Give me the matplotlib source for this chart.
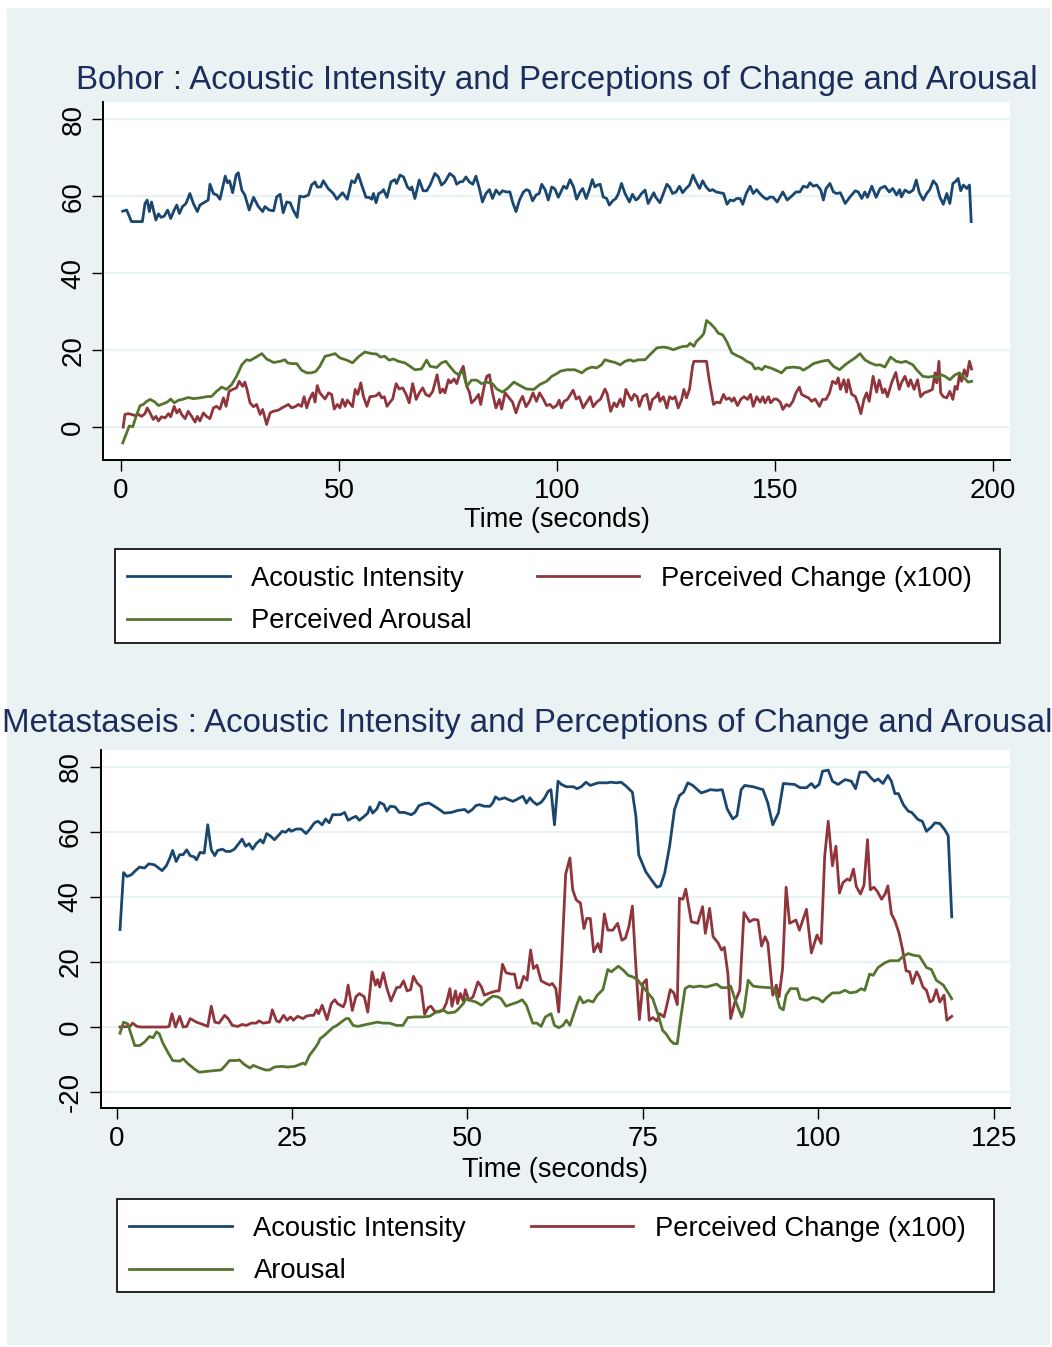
import matplotlib
matplotlib.use("Agg")
import matplotlib.pyplot as plt
from matplotlib.patches import Rectangle

plt.rcParams['font.family'] = ['Liberation Sans', 'DejaVu Sans']
plt.rcParams['axes.unicode_minus'] = False

# ---------------- data (time in seconds, value) ----------------
bohor_intensity = [
    (0.4, 56.1), (1.3, 56.4), (2.4, 53.4), (4.9, 53.4), (5.5, 58.1), (6.0, 59.0), (6.5, 56.0), (7.0, 58.5),
    (8.0, 53.8), (8.6, 55.4), (9.2, 54.5), (9.9, 54.8), (10.7, 56.4), (11.4, 54.2), (12.2, 56.4), (12.8, 57.7),
    (13.4, 55.5), (14.1, 57.3), (14.9, 58.1), (15.8, 60.7), (16.6, 58.1), (17.5, 56.0), (18.1, 57.7), (19.3, 58.5),
    (20.0, 59.0), (20.4, 63.1), (21.2, 60.7), (22.0, 60.3), (22.7, 59.2), (23.9, 65.2), (24.4, 63.5), (24.9, 64.0),
    (25.6, 60.9), (26.4, 65.5), (26.9, 66.1), (27.7, 61.6), (28.4, 60.3), (29.4, 56.4), (30.4, 59.7), (31.5, 57.3),
    (32.5, 56.0), (33.0, 57.3), (34.0, 56.4), (35.0, 56.2), (35.7, 59.8), (36.5, 60.5), (37.2, 55.7), (38.0, 58.5),
    (38.8, 58.3), (39.5, 56.4), (40.4, 54.5), (41.0, 60.0), (41.9, 59.8), (43.0, 60.3), (43.7, 62.9), (44.5, 63.7),
    (45.0, 62.4), (45.8, 62.4), (46.4, 64.0), (47.5, 62.0), (48.7, 60.7), (49.5, 59.2), (50.8, 60.9), (51.9, 59.2),
    (52.9, 64.0), (53.6, 63.5), (54.4, 65.7), (55.2, 62.9), (56.2, 59.7), (56.9, 59.7), (57.5, 59.2), (57.9, 60.7),
    (58.5, 58.3), (59.1, 60.7), (59.8, 61.1), (60.2, 61.7), (61.0, 59.7), (61.9, 63.7), (62.8, 64.3), (63.2, 63.3),
    (64.0, 65.5), (64.8, 65.0), (65.7, 62.4), (66.3, 61.7), (66.7, 62.4), (67.4, 59.4), (68.4, 64.2), (69.3, 61.4),
    (70.1, 61.4), (70.9, 62.9), (72.0, 65.9), (72.8, 65.0), (73.5, 62.9), (74.3, 63.7), (75.4, 65.9), (76.4, 65.0),
    (77.0, 63.1), (77.7, 63.7), (78.4, 63.8), (79.1, 65.0), (79.9, 63.7), (80.7, 63.1), (81.4, 65.2), (82.2, 62.0),
    (82.9, 58.5), (83.7, 60.7), (84.5, 61.7), (85.2, 59.4), (86.0, 61.6), (86.8, 60.5), (87.5, 61.4), (88.4, 61.1),
    (89.2, 61.1), (89.8, 58.5), (90.6, 56.0), (91.4, 59.0), (92.3, 61.1), (93.0, 61.7), (93.6, 61.4), (94.4, 58.8),
    (95.2, 60.3), (95.9, 60.7), (96.5, 63.1), (97.3, 61.6), (98.0, 59.0), (98.8, 62.4), (99.5, 61.9), (100.3, 59.7),
    (101.5, 62.6), (102.2, 62.0), (103.0, 64.3), (103.8, 62.4), (104.5, 59.2), (105.3, 61.1), (105.9, 62.0),
    (106.7, 59.4), (107.4, 61.6), (108.1, 64.3), (108.7, 62.4), (109.3, 62.9), (109.9, 63.1), (110.6, 59.8),
    (111.4, 59.4), (112.0, 57.7), (112.8, 58.8), (113.5, 59.4), (114.1, 60.7), (114.8, 63.3), (115.6, 60.7),
    (116.6, 58.5), (117.3, 60.5), (118.1, 59.0), (118.6, 59.4), (119.4, 60.7), (120.2, 61.6), (120.9, 58.1),
    (121.7, 59.8), (122.2, 60.9), (122.6, 59.8), (123.6, 58.3), (124.4, 60.7), (125.2, 63.1), (125.8, 62.4),
    (126.5, 60.7), (127.3, 61.1), (128.1, 62.6), (128.8, 60.9), (129.6, 62.0), (130.4, 62.9), (131.2, 65.5),
    (131.9, 63.7), (132.7, 62.0), (133.4, 64.0), (134.2, 62.4), (135.0, 61.4), (135.7, 61.7), (136.5, 61.1),
    (137.4, 60.9), (138.2, 60.7), (139.0, 57.9), (139.7, 59.0), (140.5, 58.8), (141.2, 59.4), (142.0, 59.4),
    (142.6, 57.9), (143.4, 60.7), (144.3, 62.6), (145.0, 60.7), (145.8, 61.7), (146.5, 60.7), (147.3, 59.8),
    (148.1, 59.2), (148.9, 59.8), (149.6, 59.7), (150.5, 58.5), (151.8, 61.1), (152.8, 59.0), (153.8, 60.0),
    (154.8, 61.1), (155.7, 61.1), (156.5, 62.6), (157.4, 62.3), (158.0, 63.5), (158.8, 62.6), (159.6, 62.9),
    (160.5, 61.6), (161.1, 59.0), (161.7, 62.0), (162.6, 63.3), (163.4, 61.1), (164.1, 60.7), (165.0, 60.9),
    (166.1, 58.1), (167.2, 59.8), (168.4, 61.4), (169.1, 61.1), (169.9, 59.4), (170.6, 61.1), (171.2, 59.7),
    (172.2, 62.6), (173.2, 59.7), (174.1, 62.0), (175.2, 62.6), (176.2, 61.1), (177.0, 62.0), (177.9, 60.3),
    (178.6, 61.7), (179.0, 59.8), (179.8, 61.6), (180.8, 60.9), (181.7, 61.6), (182.4, 64.2), (183.1, 60.9),
    (184.0, 59.0), (184.8, 60.7), (185.5, 61.7), (186.3, 64.0), (187.1, 62.9), (187.8, 59.8), (188.6, 57.9),
    (189.4, 60.7), (190.1, 58.1), (190.8, 63.3), (191.3, 63.7), (192.0, 64.6), (192.6, 61.4), (193.2, 62.9),
    (194.0, 62.0), (194.6, 62.9), (195.0, 53.4),
]

bohor_change = [
    (0.5, 0.0), (0.9, 3.3), (1.7, 3.5), (2.4, 3.3), (3.2, 3.0), (4.0, 3.3), (4.7, 2.8), (5.5, 3.5), (6.0, 5.0),
    (6.7, 3.6), (7.4, 2.0), (8.0, 2.8), (8.6, 1.6), (9.3, 2.7), (10.1, 2.4), (10.9, 3.5), (11.4, 2.7), (12.2, 5.4),
    (12.8, 3.7), (13.4, 4.6), (13.9, 3.3), (14.7, 2.2), (15.4, 4.1), (16.2, 2.8), (17.0, 1.3), (17.5, 2.8),
    (18.1, 1.6), (18.9, 3.7), (19.6, 2.8), (20.4, 2.2), (21.2, 5.0), (21.9, 5.4), (22.7, 4.7), (23.5, 7.6),
    (24.1, 5.4), (24.8, 9.3), (25.6, 9.8), (26.5, 10.2), (27.1, 11.9), (27.9, 10.6), (28.4, 11.7), (28.9, 9.8),
    (29.6, 6.3), (30.4, 5.3), (31.1, 5.9), (31.9, 3.3), (32.5, 4.6), (33.4, 0.7), (34.2, 3.7), (34.9, 4.1),
    (36.1, 4.4), (36.9, 5.0), (37.6, 5.4), (38.4, 5.9), (39.1, 5.0), (39.9, 5.3), (40.7, 5.9), (41.4, 5.4),
    (42.0, 7.9), (42.6, 5.0), (43.2, 7.2), (44.0, 8.9), (44.5, 6.5), (45.0, 10.8), (45.6, 8.9), (46.8, 7.3),
    (47.6, 8.9), (48.3, 8.5), (48.9, 4.7), (49.6, 5.9), (50.2, 5.0), (50.8, 7.2), (51.4, 5.4), (51.9, 7.0),
    (52.7, 5.9), (53.1, 5.3), (53.7, 9.8), (54.3, 8.5), (55.0, 11.5), (55.6, 8.0), (56.4, 5.4), (57.1, 7.9),
    (57.9, 8.0), (58.6, 8.2), (59.2, 8.9), (59.8, 7.6), (60.4, 7.9), (61.0, 5.4), (61.7, 6.5), (62.3, 7.3),
    (63.1, 11.3), (63.8, 9.9), (64.6, 10.2), (65.4, 8.5), (66.1, 6.3), (66.9, 11.3), (67.7, 7.2), (68.4, 8.9),
    (69.2, 10.2), (69.9, 8.5), (70.7, 8.0), (71.5, 9.3), (72.5, 13.6), (73.2, 8.9), (73.8, 9.9), (74.3, 8.9),
    (75.1, 12.3), (75.6, 11.5), (76.4, 12.5), (77.0, 11.3), (77.8, 14.2), (78.5, 15.8), (79.3, 10.6), (79.9, 9.1),
    (80.4, 6.3), (81.2, 7.2), (82.0, 8.5), (82.5, 5.9), (83.3, 10.6), (83.9, 13.2), (84.5, 13.6), (85.2, 8.9),
    (86.0, 5.0), (86.8, 7.2), (87.3, 4.7), (88.1, 8.9), (88.8, 7.9), (89.8, 6.5), (90.6, 3.7), (91.4, 6.5),
    (92.1, 8.0), (92.9, 5.3), (93.7, 6.7), (94.5, 8.9), (95.3, 6.7), (96.0, 8.9), (96.9, 7.2), (97.6, 5.6),
    (98.4, 5.9), (99.1, 5.0), (99.9, 5.6), (100.5, 7.0), (101.0, 5.0), (101.6, 6.7), (102.4, 7.2), (103.1, 8.5),
    (103.7, 9.6), (104.4, 7.3), (105.1, 7.9), (106.0, 5.0), (106.8, 6.5), (107.6, 7.9), (108.3, 5.3), (109.1, 6.5),
    (110.0, 7.3), (111.0, 9.9), (111.5, 8.7), (112.3, 4.1), (113.1, 6.3), (113.7, 5.3), (114.5, 7.3), (115.2, 5.4),
    (115.8, 9.8), (116.6, 8.0), (117.1, 7.0), (117.7, 8.5), (118.4, 7.9), (118.9, 5.4), (119.7, 8.0), (120.6, 8.5),
    (121.3, 4.6), (121.9, 7.2), (122.7, 7.9), (123.2, 8.9), (123.6, 6.7), (124.4, 7.9), (125.2, 5.0), (125.8, 7.9),
    (126.5, 7.3), (127.1, 7.9), (127.8, 5.0), (128.6, 7.2), (129.1, 9.8), (129.7, 7.6), (130.4, 9.9), (131.1, 15.8),
    (131.4, 17.1), (134.3, 17.1), (134.9, 12.3), (135.9, 5.9), (136.6, 6.5), (137.4, 6.3), (138.2, 8.5), (138.8, 7.2),
    (139.5, 7.6), (140.1, 6.7), (140.6, 7.6), (141.4, 5.6), (142.2, 7.3), (142.9, 7.9), (143.7, 7.2), (144.4, 8.5),
    (145.0, 5.4), (145.8, 7.9), (146.6, 6.5), (147.2, 7.9), (147.7, 6.3), (148.5, 7.9), (149.0, 6.3), (149.8, 7.3),
    (150.4, 7.3), (151.2, 6.5), (151.8, 4.6), (152.6, 5.9), (153.3, 5.4), (154.1, 6.7), (154.8, 8.9), (155.6, 10.4),
    (156.1, 8.5), (156.9, 8.0), (157.7, 7.6), (158.4, 6.7), (159.2, 7.3), (160.2, 5.4), (160.9, 7.2), (161.7, 7.2),
    (162.5, 8.9), (163.2, 11.9), (164.0, 11.3), (164.5, 12.8), (165.0, 9.8), (165.8, 12.3), (166.4, 9.1),
    (166.8, 12.3), (167.6, 8.5), (168.4, 8.0), (169.1, 5.9), (169.7, 3.5), (170.4, 7.2), (171.0, 8.9), (171.6, 6.7),
    (172.5, 13.2), (173.3, 9.1), (173.9, 12.2), (174.7, 8.9), (175.2, 9.9), (175.8, 7.9), (176.8, 11.7),
    (177.7, 14.2), (178.5, 9.8), (179.0, 11.5), (179.8, 13.2), (180.6, 10.6), (181.1, 12.3), (181.9, 9.8),
    (182.7, 12.3), (183.4, 7.9), (184.2, 8.9), (185.2, 9.3), (186.1, 9.8), (186.7, 14.1), (187.1, 11.5),
    (187.6, 17.1), (188.0, 8.9), (188.6, 7.9), (189.4, 7.6), (190.1, 9.3), (190.8, 7.2), (191.3, 10.6), (191.8, 9.8),
    (192.3, 13.6), (192.8, 11.9), (193.4, 14.9), (194.0, 13.2), (194.6, 17.1), (195.1, 15.1),
]

bohor_arousal = [
    (0.4, -4.1), (1.3, -1.5), (1.9, 0.3), (2.7, 0.1), (3.6, 3.3), (4.4, 5.6), (5.1, 5.9), (5.9, 6.7), (6.7, 7.2),
    (7.8, 6.5), (8.6, 5.6), (9.7, 6.1), (10.6, 6.5), (11.4, 7.3), (12.2, 6.3), (13.2, 7.0), (14.1, 7.2), (15.4, 7.7),
    (16.6, 7.4), (18.1, 7.6), (19.6, 7.9), (20.8, 8.0), (21.9, 9.3), (23.1, 10.4), (24.2, 9.8), (25.4, 11.1),
    (26.5, 13.2), (27.7, 16.2), (28.8, 17.5), (29.6, 17.3), (30.7, 18.0), (32.3, 19.1), (33.4, 17.7), (35.0, 16.8),
    (36.5, 17.1), (37.6, 17.5), (38.2, 16.7), (39.2, 16.5), (40.3, 16.5), (41.4, 14.8), (42.6, 14.1), (43.7, 14.1),
    (44.7, 14.5), (45.6, 15.8), (46.8, 18.4), (47.9, 18.7), (49.1, 19.1), (50.2, 18.0), (51.8, 17.4), (53.1, 16.7),
    (54.4, 18.2), (55.9, 19.5), (57.5, 19.1), (58.6, 19.0), (59.5, 18.2), (60.5, 18.4), (61.5, 17.4), (62.5, 17.7),
    (63.6, 17.1), (65.1, 16.7), (66.3, 15.8), (67.4, 14.9), (68.9, 15.1), (70.1, 17.4), (70.9, 15.8), (72.4, 15.5),
    (73.5, 16.7), (74.5, 17.1), (75.4, 15.8), (76.6, 14.2), (77.4, 13.6), (78.4, 14.5), (79.3, 10.6), (80.4, 12.2),
    (81.6, 12.2), (82.7, 11.3), (83.9, 11.7), (85.2, 11.3), (86.2, 9.9), (87.5, 9.1), (88.8, 10.2), (90.1, 11.7),
    (91.5, 10.8), (93.0, 9.9), (94.7, 9.8), (96.1, 11.1), (97.6, 11.9), (98.8, 13.2), (100.1, 14.0), (100.7, 14.5),
    (102.2, 14.9), (104.1, 14.9), (105.7, 14.1), (106.8, 15.1), (108.0, 15.6), (109.1, 15.4), (110.2, 16.2),
    (111.0, 17.5), (112.2, 17.1), (113.3, 16.8), (114.5, 16.2), (115.6, 17.1), (116.8, 17.5), (117.5, 17.1),
    (118.7, 17.5), (120.2, 17.5), (121.3, 18.8), (122.9, 20.6), (124.4, 20.8), (125.5, 20.6), (126.7, 20.1),
    (127.8, 20.6), (129.0, 21.0), (129.9, 21.0), (130.5, 21.8), (131.4, 21.0), (132.0, 22.3), (133.2, 23.6),
    (133.7, 24.4), (134.3, 27.7), (135.1, 27.0), (136.2, 25.7), (137.0, 24.4), (138.0, 24.0), (138.9, 22.3),
    (140.1, 19.3), (141.2, 18.6), (142.4, 18.0), (143.5, 17.1), (144.7, 16.5), (145.4, 15.1), (146.2, 15.4),
    (147.0, 14.9), (147.7, 15.8), (148.9, 15.4), (150.0, 14.9), (151.5, 14.1), (152.6, 15.4), (154.2, 15.6),
    (155.7, 15.4), (156.5, 14.8), (157.7, 15.6), (158.8, 16.5), (159.7, 16.8), (160.7, 17.1), (162.2, 17.4),
    (163.4, 15.8), (164.8, 14.9), (166.1, 16.2), (167.2, 17.1), (168.4, 18.0), (169.5, 19.1), (170.6, 17.5),
    (171.8, 16.7), (173.2, 16.1), (174.1, 16.2), (175.2, 15.6), (176.5, 18.2), (177.8, 17.1), (179.0, 16.8),
    (180.0, 17.1), (181.6, 16.2), (182.5, 14.9), (183.9, 13.2), (185.2, 13.0), (186.3, 13.2), (187.1, 12.8),
    (188.2, 13.6), (189.0, 13.2), (190.1, 12.3), (191.3, 13.6), (192.3, 14.1), (193.2, 13.0), (194.3, 11.7),
    (195.1, 11.9),
]

meta_intensity = [
    (0.5, 30.0), (1.0, 47.5), (1.5, 46.3), (2.1, 46.8), (2.7, 48.1), (3.3, 49.2), (4.0, 48.9), (4.6, 50.2),
    (5.4, 49.9), (6.0, 48.9), (6.5, 48.1), (7.1, 49.6), (7.6, 52.0), (8.0, 54.3), (8.5, 50.9), (9.0, 53.0),
    (9.5, 53.0), (10.0, 54.5), (10.5, 52.7), (11.1, 52.3), (11.4, 51.4), (11.9, 53.7), (12.5, 53.5), (13.0, 62.2),
    (13.5, 54.5), (14.0, 52.7), (14.4, 54.3), (15.1, 54.7), (15.6, 54.0), (16.2, 54.0), (16.8, 54.7), (17.3, 56.1),
    (17.9, 57.8), (18.4, 55.6), (18.9, 56.4), (19.4, 54.7), (19.9, 56.4), (20.5, 57.6), (20.9, 56.6), (21.4, 59.5),
    (21.9, 58.8), (22.5, 57.6), (23.2, 59.2), (23.6, 60.2), (24.1, 59.9), (24.6, 60.9), (24.9, 60.2), (25.6, 60.9),
    (26.3, 60.9), (27.0, 59.5), (27.5, 60.7), (28.2, 62.8), (28.7, 63.3), (29.3, 62.2), (29.8, 64.0), (30.3, 62.8),
    (30.8, 65.3), (31.4, 65.3), (31.9, 65.3), (32.5, 66.0), (33.0, 63.6), (33.6, 64.3), (34.1, 64.8), (34.6, 63.6),
    (35.3, 64.8), (35.8, 65.8), (36.1, 67.7), (36.5, 65.8), (37.1, 67.1), (37.5, 69.1), (38.1, 68.4), (38.5, 66.4),
    (39.0, 67.9), (39.7, 67.7), (40.3, 66.0), (41.0, 66.0), (42.0, 65.3), (42.5, 66.0), (43.1, 68.1), (43.9, 68.7),
    (44.5, 68.9), (45.3, 67.9), (46.0, 66.9), (46.7, 65.8), (47.7, 66.0), (48.6, 66.6), (49.6, 66.9), (50.1, 66.0),
    (50.7, 66.9), (51.2, 68.1), (51.7, 68.4), (52.4, 67.9), (53.2, 67.9), (53.6, 68.9), (54.0, 70.8), (54.5, 70.0),
    (55.3, 70.5), (55.8, 70.0), (56.5, 69.4), (57.2, 70.2), (57.9, 71.0), (58.4, 68.9), (58.9, 70.5), (59.3, 69.4),
    (59.9, 68.4), (60.5, 69.1), (61.0, 70.5), (61.5, 72.5), (61.9, 73.0), (62.4, 62.2), (62.9, 75.6), (63.4, 74.6),
    (64.1, 73.9), (65.1, 73.9), (65.6, 73.3), (66.2, 73.9), (66.9, 75.3), (67.5, 74.3), (68.6, 75.1), (69.8, 75.1),
    (70.5, 75.3), (71.2, 75.1), (71.9, 75.3), (72.6, 74.1), (73.5, 72.2), (74.0, 64.8), (74.4, 53.0), (75.4, 47.8),
    (76.2, 45.3), (77.0, 43.0), (77.5, 43.4), (78.1, 47.3), (78.8, 55.6), (79.5, 66.9), (80.2, 71.2), (80.8, 72.2),
    (81.4, 75.1), (82.1, 74.3), (83.3, 72.0), (84.0, 72.5), (84.6, 73.0), (85.5, 72.8), (86.3, 73.0), (87.0, 67.1),
    (87.8, 64.0), (88.4, 65.0), (89.0, 73.0), (89.5, 74.3), (90.7, 73.9), (92.1, 73.0), (92.8, 68.9), (93.5, 62.2),
    (94.3, 65.8), (95.0, 74.9), (96.6, 74.6), (97.4, 73.6), (98.3, 73.6), (99.0, 74.9), (99.5, 73.6), (100.1, 74.6),
    (100.6, 78.7), (101.4, 79.0), (102.0, 75.6), (102.8, 74.6), (103.8, 76.1), (104.7, 75.6), (105.3, 73.3),
    (105.9, 78.4), (106.8, 78.4), (107.5, 76.6), (108.0, 75.6), (108.5, 76.3), (109.2, 74.9), (109.9, 77.4),
    (110.4, 75.6), (110.9, 71.8), (111.4, 71.8), (112.1, 68.4), (112.8, 66.4), (113.3, 66.0), (113.7, 65.0),
    (114.2, 63.8), (114.8, 63.3), (115.4, 60.2), (116.1, 61.5), (116.6, 62.8), (117.3, 62.6), (118.0, 60.7),
    (118.5, 58.8), (119.0, 33.9),
]

meta_change = [
    (0.5, 0.0), (1.9, 0.2), (2.3, 1.2), (2.9, 0.2), (3.5, 0.0), (7.1, 0.0), (7.5, 0.2), (7.9, 4.1), (8.4, 0.0),
    (9.0, 3.3), (9.5, 0.0), (10.0, 0.2), (10.5, 2.6), (11.4, 1.5), (12.3, 0.8), (13.0, 0.2), (13.5, 6.4), (14.0, 1.5),
    (14.6, 1.2), (15.4, 3.6), (15.9, 2.6), (16.5, 0.5), (17.3, 0.2), (17.9, 0.8), (18.5, 0.5), (19.2, 1.2),
    (19.9, 1.2), (20.3, 1.9), (20.9, 1.2), (21.8, 1.5), (22.2, 5.3), (22.8, 1.9), (23.2, 1.5), (23.8, 3.6),
    (24.3, 2.1), (24.8, 3.1), (25.2, 2.1), (25.8, 3.3), (26.6, 2.6), (27.0, 3.3), (27.6, 3.6), (28.1, 3.6),
    (28.5, 5.3), (28.8, 4.1), (29.3, 6.7), (30.0, 2.3), (30.6, 7.2), (31.1, 8.4), (31.5, 7.2), (32.3, 6.2),
    (32.6, 7.7), (33.0, 12.9), (33.6, 5.1), (34.1, 9.3), (34.6, 10.3), (35.3, 9.3), (35.8, 4.6), (36.4, 17.0),
    (36.9, 12.9), (37.2, 14.6), (37.5, 12.3), (38.0, 16.7), (38.5, 12.1), (39.1, 8.0), (39.9, 12.1), (40.4, 12.3),
    (40.9, 14.2), (41.4, 11.1), (41.9, 11.5), (42.3, 15.6), (42.8, 13.6), (43.4, 12.3), (43.9, 3.9), (44.4, 6.0),
    (44.8, 6.4), (45.3, 4.9), (45.9, 4.6), (46.5, 5.1), (47.0, 7.4), (47.5, 11.8), (47.8, 6.4), (48.3, 11.1),
    (48.6, 7.2), (49.0, 10.3), (49.4, 8.0), (49.7, 11.5), (50.2, 8.2), (50.8, 9.3), (51.5, 13.9), (52.0, 12.3),
    (52.4, 9.8), (53.2, 10.5), (54.1, 11.1), (54.5, 11.1), (55.0, 19.3), (55.5, 16.7), (56.2, 16.3), (56.7, 16.3),
    (57.1, 12.1), (57.5, 12.1), (58.0, 15.6), (58.5, 14.4), (59.0, 23.7), (59.4, 18.0), (59.9, 19.0), (60.5, 14.2),
    (61.2, 13.4), (61.7, 12.9), (62.1, 13.4), (62.6, 11.8), (63.0, 4.6), (63.4, 19.5), (64.0, 47.1), (64.6, 52.0),
    (65.0, 42.2), (65.5, 39.1), (66.1, 38.1), (66.6, 30.3), (67.0, 33.4), (67.5, 33.4), (68.0, 23.1), (68.6, 25.7),
    (69.0, 23.1), (69.5, 34.8), (70.0, 29.8), (70.7, 29.8), (71.4, 31.9), (72.0, 26.7), (72.5, 27.3), (73.0, 30.9),
    (73.5, 37.2), (74.0, 18.5), (74.5, 2.3), (75.0, 13.4), (75.5, 14.6), (75.9, 2.1), (76.4, 2.9), (77.0, 1.9),
    (77.4, 4.1), (78.0, 3.1), (78.3, 5.7), (78.9, 11.5), (79.4, 10.5), (79.9, 6.9), (80.2, 39.6), (80.7, 39.3),
    (81.1, 42.4), (81.9, 32.4), (82.8, 31.9), (83.5, 37.0), (83.9, 28.8), (84.5, 36.5), (85.0, 27.8), (85.7, 25.9),
    (86.2, 23.7), (86.6, 24.5), (87.1, 16.5), (87.5, 2.6), (88.1, 7.7), (88.8, 11.3), (89.4, 35.2), (90.2, 32.4),
    (90.8, 33.1), (91.4, 32.9), (91.9, 24.9), (92.4, 27.8), (92.8, 25.9), (93.5, 9.8), (94.0, 12.9), (94.4, 9.3),
    (94.9, 18.0), (95.4, 43.0), (95.9, 31.9), (96.8, 32.9), (97.3, 29.8), (98.3, 36.2), (99.0, 22.8), (99.8, 28.3),
    (100.4, 25.7), (100.9, 52.5), (101.4, 63.3), (102.0, 49.6), (102.5, 55.6), (103.0, 41.2), (103.5, 44.4),
    (104.1, 45.5), (104.5, 45.1), (105.0, 48.6), (105.4, 43.2), (106.0, 40.9), (106.5, 43.7), (107.0, 57.6),
    (107.4, 42.2), (107.9, 43.0), (108.4, 41.7), (109.0, 39.3), (109.5, 40.9), (109.9, 43.4), (110.4, 34.8),
    (110.9, 32.7), (111.5, 28.8), (112.0, 23.7), (112.5, 17.3), (113.0, 17.0), (113.4, 13.4), (114.0, 17.0),
    (114.4, 15.4), (114.9, 12.3), (115.4, 11.3), (115.9, 7.7), (116.3, 8.2), (116.8, 11.5), (117.3, 7.7),
    (117.9, 9.8), (118.3, 2.1), (119.0, 3.3),
]

meta_arousal = [
    (0.5, -1.9), (1.0, 1.5), (1.6, 1.0), (2.6, -5.7), (3.3, -5.7), (4.0, -4.6), (4.7, -2.9), (5.2, -3.3),
    (5.7, -1.5), (6.1, -2.1), (6.6, -4.9), (7.3, -7.7), (8.0, -10.3), (9.0, -10.5), (9.5, -9.8), (10.2, -11.3),
    (11.1, -12.9), (11.8, -13.9), (13.0, -13.6), (14.0, -13.4), (14.9, -13.2), (15.4, -12.1), (16.1, -10.3),
    (17.1, -10.3), (17.5, -10.1), (18.2, -11.5), (19.0, -12.6), (19.5, -11.8), (20.4, -12.6), (21.2, -13.2),
    (21.8, -13.2), (22.5, -12.3), (23.5, -12.1), (24.4, -12.3), (25.4, -12.1), (26.1, -11.5), (26.6, -11.1),
    (26.9, -11.5), (27.5, -8.7), (28.2, -6.7), (28.7, -5.1), (29.0, -3.6), (29.6, -2.6), (30.3, -1.2), (30.8, -0.2),
    (31.4, 0.5), (32.0, 1.5), (32.7, 2.6), (33.1, 2.6), (33.7, 0.5), (34.4, 0.2), (35.6, 0.8), (36.5, 1.2),
    (37.2, 1.5), (38.0, 1.2), (38.9, 1.2), (39.9, 0.5), (40.8, 0.5), (41.5, 2.9), (42.5, 3.1), (43.7, 3.1),
    (44.6, 3.3), (45.3, 4.3), (46.0, 4.9), (46.5, 5.3), (47.2, 4.3), (48.2, 4.6), (48.6, 5.3), (49.4, 7.2),
    (49.8, 8.7), (50.4, 8.2), (51.2, 7.7), (52.0, 6.7), (52.9, 8.4), (53.6, 9.5), (54.3, 9.3), (54.8, 8.7),
    (55.5, 6.4), (56.5, 7.2), (57.2, 7.7), (57.8, 8.4), (58.4, 6.7), (59.3, 1.2), (59.9, 1.2), (60.5, 0.2),
    (61.1, 3.1), (61.9, 4.1), (62.4, 0.5), (63.0, -0.2), (63.6, 0.5), (64.1, 2.1), (64.6, 0.5), (65.0, 3.1),
    (65.6, 7.0), (66.0, 9.3), (66.5, 7.4), (67.2, 8.2), (67.9, 7.7), (68.5, 9.8), (69.3, 11.5), (70.0, 17.7),
    (70.5, 17.0), (71.5, 18.7), (72.2, 17.5), (72.9, 15.9), (73.6, 15.4), (74.3, 14.4), (74.8, 12.9), (75.6, 10.8),
    (76.4, 8.7), (77.2, 3.6), (77.8, -1.0), (78.3, -2.1), (78.9, -4.1), (79.4, -5.1), (79.9, -5.1), (80.3, 1.5),
    (81.0, 11.8), (81.6, 12.6), (82.2, 12.3), (83.1, 12.6), (84.0, 12.3), (85.5, 13.2), (86.2, 12.1), (86.9, 12.1),
    (87.5, 12.6), (88.0, 9.3), (88.6, 5.7), (89.1, 3.1), (89.4, 5.1), (90.0, 14.4), (90.7, 12.6), (91.7, 12.3),
    (93.1, 12.1), (93.8, 11.5), (94.5, 6.0), (95.0, 5.3), (95.4, 9.8), (96.0, 11.8), (97.0, 11.8), (97.4, 8.7),
    (98.3, 8.2), (99.2, 9.1), (100.0, 8.7), (100.6, 7.7), (101.2, 9.1), (102.0, 10.5), (103.0, 10.5), (103.8, 11.3),
    (104.5, 10.5), (105.4, 10.8), (106.1, 11.8), (106.6, 11.3), (107.3, 16.3), (107.8, 15.9), (108.5, 18.3),
    (109.5, 19.8), (110.2, 20.4), (111.4, 20.4), (112.1, 21.8), (112.8, 22.6), (113.5, 22.1), (114.4, 21.8),
    (115.4, 18.3), (116.1, 17.7), (116.8, 14.4), (117.8, 12.9), (118.5, 10.5), (119.0, 8.7),
]

top_title = "Bohor : Acoustic Intensity and Perceptions of Change and Arousal"
bottom_title = "Metastaseis : Acoustic Intensity and Perceptions of Change and Arousal"
top_labels = ["Acoustic Intensity", "Perceived Arousal", "Perceived Change (x100)"]
bottom_labels = ["Acoustic Intensity", "Arousal", "Perceived Change (x100)"]
x_label = "Time (seconds)"
top_xticks = [0, 50, 100, 150, 200]
top_yticks = [0, 20, 40, 60, 80]
bottom_xticks = [0, 25, 50, 75, 100, 125]
bottom_yticks = [-20, 0, 20, 40, 60, 80]

# ---------------- style ----------------
NAVY, MAROON, GREEN = "#1a476f", "#90353b", "#55752f"
BG = "#eaf2f3"
TITLE_C = "#1c2d5c"
W, H = 1052, 1347
TICK_FS, LAB_FS, LEG_FS, TITLE_FS = 20, 19.5, 19.7, 23.8
LW = 2.0

fig = plt.figure(figsize=(W / 100, H / 100), dpi=100, facecolor="white")


def fx(x):
    return x / W


def fy(y):
    return 1 - y / H


fig.add_artist(Rectangle((fx(7), fy(1345)), fx(1050) - fx(7), fy(8) - fy(1345),
                         transform=fig.transFigure, facecolor=BG, edgecolor="none", zorder=-5))


def make_axes(left, top, right, bottom, xlim, ylim, xticks, yticks, xlabel_base):
    ax = fig.add_axes([fx(left), fy(bottom), fx(right) - fx(left), fy(top) - fy(bottom)])
    ax.set_facecolor("white")
    ax.set_xlim(*xlim)
    ax.set_ylim(*ylim)
    for s in ("top", "right"):
        ax.spines[s].set_visible(False)
    for s in ("left", "bottom"):
        ax.spines[s].set_linewidth(1.4)
        ax.spines[s].set_color("black")
    ax.set_xticks(xticks)
    ax.set_yticks(yticks)
    ax.yaxis.grid(True, color=BG, linewidth=1.6)
    ax.set_axisbelow(True)
    ax.tick_params(axis="both", direction="out", length=8, width=1.0, color="black",
                   labelsize=TICK_FS, labelcolor="black")
    ax.tick_params(axis="x", pad=5)
    ax.tick_params(axis="y", pad=4, labelrotation=90)
    for lbl in ax.get_yticklabels():
        lbl.set_va("center")
    ax.set_xlabel(x_label, fontsize=LAB_FS)
    ax.xaxis.set_label_coords(0.5, (bottom - xlabel_base) / (bottom - top))
    ax.xaxis.label.set_va("baseline")
    return ax


def plot_series(ax, pts, color):
    t = [p[0] for p in pts]
    v = [p[1] for p in pts]
    return ax.plot(t, v, color=color, lw=LW, solid_joinstyle="round")[0]


def add_legend(handles, labels, box, row_mid, x0):
    l, t, r, b = box
    fig.add_artist(Rectangle((fx(l), fy(b)), fx(r) - fx(l), fy(t) - fy(b), transform=fig.transFigure,
                             facecolor="white", edgecolor="black", linewidth=1.2, zorder=-1))
    fig.legend(handles, labels, loc="center left", bbox_to_anchor=(fx(x0), fy(row_mid)),
               bbox_transform=fig.transFigure, ncol=2, frameon=False, fontsize=LEG_FS,
               handlelength=3.75, handletextpad=0.8, columnspacing=2.35, labelspacing=0.62,
               borderpad=0, borderaxespad=0)


# ---------------- top panel ----------------
ax1 = make_axes(103, 101.5, 1010, 460, (-4.13, 203.9), (-8.54, 84.6), top_xticks, top_yticks, 527)
h_ai = plot_series(ax1, bohor_intensity, NAVY)
h_pc = plot_series(ax1, bohor_change, MAROON)
h_pa = plot_series(ax1, bohor_arousal, GREEN)
fig.text(fx(557), fy(89), top_title, ha="center", va="baseline", fontsize=TITLE_FS, color=TITLE_C)
add_legend([h_ai, h_pa, h_pc], top_labels, (115, 549, 1000, 643), 600, 127)

# ---------------- bottom panel ----------------
ax2 = make_axes(100.5, 750, 1010, 1108, (-2.28, 127.3), (-24.9, 85.2), bottom_xticks, bottom_yticks, 1177)
g_ai = plot_series(ax2, meta_intensity, NAVY)
g_pc = plot_series(ax2, meta_change, MAROON)
g_pa = plot_series(ax2, meta_arousal, GREEN)
fig.text(fx(527), fy(732), bottom_title, ha="center", va="baseline", fontsize=TITLE_FS, color=TITLE_C)
add_legend([g_ai, g_pa, g_pc], bottom_labels, (117, 1199, 994, 1292), 1250, 129)

fig.savefig("out.png", dpi=100, facecolor="white")
